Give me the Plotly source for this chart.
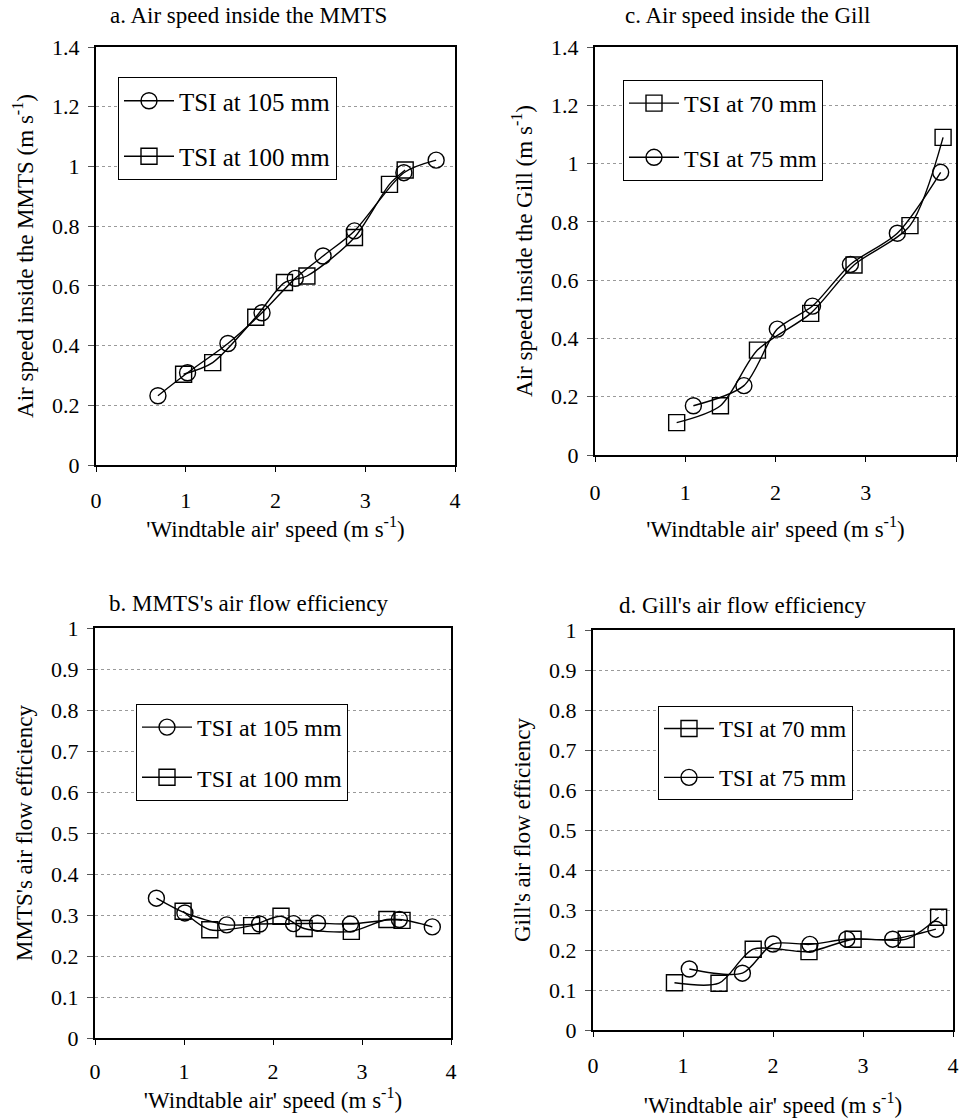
import plotly.graph_objects as go

# ---------------- data ----------------
# Panel a: Air speed inside the MMTS
a_105_x = [0.69, 1.02, 1.47, 1.85, 2.22, 2.53, 2.88, 3.43, 3.79]
a_105_y = [0.232, 0.309, 0.407, 0.51, 0.625, 0.70, 0.784, 0.979, 1.021]
a_100_x = [0.976, 1.30, 1.78, 2.10, 2.35, 2.88, 3.27, 3.445]
a_100_y = [0.304, 0.343, 0.495, 0.611, 0.633, 0.762, 0.94, 0.988]

# Panel c: Air speed inside the Gill
c_70_x = [0.905, 1.39, 1.80, 2.39, 2.87, 3.49, 3.857]
c_70_y = [0.111, 0.169, 0.36, 0.486, 0.652, 0.787, 1.090]
c_75_x = [1.09, 1.65, 2.02, 2.41, 2.83, 3.35, 3.83]
c_75_y = [0.169, 0.238, 0.432, 0.511, 0.654, 0.761, 0.970]

# Panel b: MMTS's air flow efficiency
b_105_x = [0.69, 1.01, 1.48, 1.85, 2.23, 2.50, 2.87, 3.42, 3.79]
b_105_y = [0.341, 0.305, 0.276, 0.278, 0.279, 0.280, 0.278, 0.289, 0.271]
b_100_x = [0.99, 1.29, 1.76, 2.09, 2.35, 2.88, 3.28, 3.45]
b_100_y = [0.309, 0.264, 0.274, 0.297, 0.267, 0.26, 0.289, 0.287]

# Panel d: Gill's air flow efficiency
d_70_x = [0.905, 1.40, 1.78, 2.40, 2.89, 3.48, 3.84]
d_70_y = [0.118, 0.117, 0.202, 0.196, 0.227, 0.227, 0.282]
d_75_x = [1.07, 1.66, 2.00, 2.41, 2.82, 3.33, 3.81]
d_75_y = [0.1525, 0.142, 0.215, 0.214, 0.227, 0.227, 0.252]

titles = ["a. Air speed inside the MMTS", "c. Air speed inside the Gill",
          "b. MMTS's air flow efficiency", "d. Gill's air flow efficiency"]
ytitles = ["Air speed inside the MMTS (m s<sup>-1</sup>)",
           "Air speed inside the Gill (m s<sup>-1</sup>)",
           "MMTS's air flow efficiency", "Gill's air flow efficiency"]
xtitle = "'Windtable air' speed (m s<sup>-1</sup>)"

FONT = "Times New Roman"
W, H = 961, 1118

fig = go.Figure()

def add(x, y, name, symbol, xa, ya, legend):
    fig.add_trace(go.Scatter(
        x=x, y=y, name=name, mode="lines+markers",
        line=dict(color="black", width=1.4, shape="spline", smoothing=0.8),
        marker=dict(symbol=symbol, size=16, color="black", line=dict(width=1.4, color="black")),
        xaxis=xa, yaxis=ya, legend=legend, legendgroup=name + legend,
    ))

add(a_105_x, a_105_y, "TSI at 105 mm", "circle-open", "x", "y", "legend")
add(a_100_x, a_100_y, "TSI at 100 mm", "square-open", "x", "y", "legend")
add(c_70_x, c_70_y, "TSI at 70 mm", "square-open", "x2", "y2", "legend2")
add(c_75_x, c_75_y, "TSI at 75 mm", "circle-open", "x2", "y2", "legend2")
add(b_105_x, b_105_y, "TSI at 105 mm", "circle-open", "x3", "y3", "legend3")
add(b_100_x, b_100_y, "TSI at 100 mm", "square-open", "x3", "y3", "legend3")
add(d_70_x, d_70_y, "TSI at 70 mm", "square-open", "x4", "y4", "legend4")
add(d_75_x, d_75_y, "TSI at 75 mm", "circle-open", "x4", "y4", "legend4")

# pixel boxes (left, right, top, bottom)
boxes = [(96, 455, 47, 465), (595, 956, 47, 455), (95, 451, 628, 1038), (593, 953, 630, 1030)]
yranges = [(0, 1.4, 0.2), (0, 1.4, 0.2), (0, 1.0, 0.1), (0, 1.0, 0.1)]
xlabel_off = [10, 12, 8, 10]
xstand = [6, 16, 4, 20]

def px_x(p):
    return p / W

def px_y(p):
    return 1 - p / H

axes = {}
for i, ((l, r, t, b), (y0, y1, dy)) in enumerate(zip(boxes, yranges)):
    n = "" if i == 0 else str(i + 1)
    axes["xaxis" + n] = dict(
        domain=[px_x(l), px_x(r)], anchor="y" + n, range=[0, 4], dtick=1,
        showgrid=False, zeroline=False, showline=True, linecolor="black", linewidth=2,
        mirror=True, ticks="outside", ticklen=5, tickcolor="black",
        ticklabelstandoff=xlabel_off[i],
        tickfont=dict(size=22),
        title=dict(text=xtitle, font=dict(size=23), standoff=xstand[i]),
        fixedrange=True,
    )
    axes["yaxis" + n] = dict(
        domain=[px_y(b), px_y(t)], anchor="x" + n, range=[y0, y1], dtick=dy,
        showgrid=True, gridcolor="#9a9a9a", gridwidth=1, griddash="dot",
        zeroline=False, showline=True, linecolor="black", linewidth=2, mirror=True,
        ticks="outside", ticklen=6, tickcolor="#555",
        ticklabelstandoff=4,
        tickfont=dict(size=22),
        title=dict(text=ytitles[i], font=dict(size=23), standoff=12),
        fixedrange=True,
    )

legpos = [(118, 77), (623, 80), (136, 704), (658, 706)]
legsize = [25, 24, 24, 23]
legwidth = [0, 0, 160, 156]
leggap = [20, 20, 16, 16]
legends = {}
for i, (lx, ly) in enumerate(legpos):
    n = "legend" if i == 0 else "legend" + str(i + 1)
    legends[n] = dict(
        x=px_x(lx), y=px_y(ly), xanchor="left", yanchor="top",
        bgcolor="white", bordercolor="black", borderwidth=1,
        font=dict(size=legsize[i]), entrywidth=legwidth[i],
        itemwidth=50, tracegroupgap=leggap[i], traceorder="grouped",
    )

title_pos = [(248, 15), (747, 15), (249, 603), (743, 605)]
annotations = []
for (tx, ty), txt in zip(title_pos, titles):
    annotations.append(dict(
        text=txt, x=px_x(tx), y=px_y(ty), xref="paper", yref="paper",
        xanchor="center", yanchor="middle", showarrow=False,
        font=dict(size=23),
    ))

fig.update_layout(
    template="none",
    width=W, height=H, margin=dict(l=0, r=0, t=0, b=0),
    paper_bgcolor="white", plot_bgcolor="white",
    font=dict(family=FONT, color="black"),
    annotations=annotations, showlegend=True,
    **axes, **legends,
)

fig.write_html("out.html", config={"displayModeBar": False},
               post_script="document.body.style.margin='0';")
